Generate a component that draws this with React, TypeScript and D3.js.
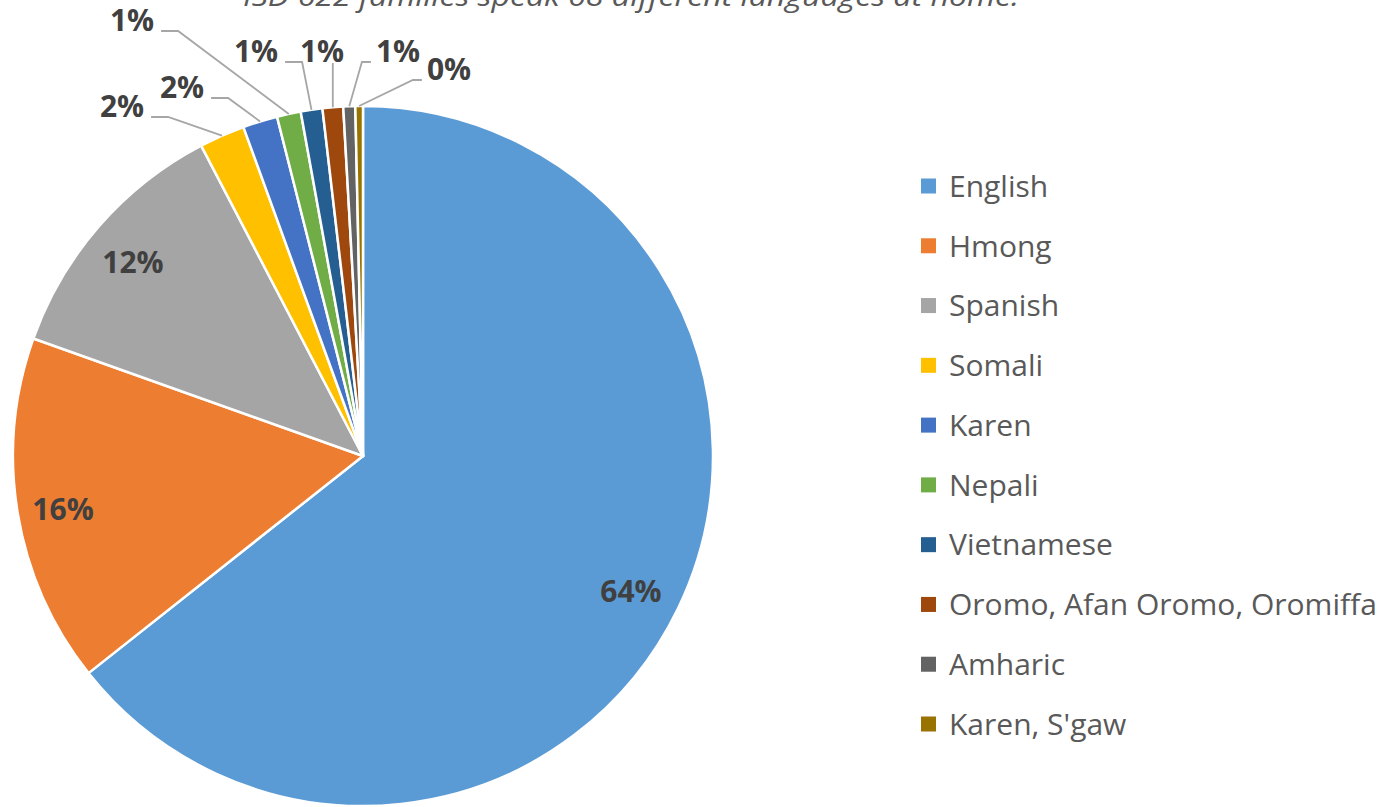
import React, { useRef, useEffect } from 'react';
import * as d3 from 'd3';

const title = 'ISD 622 families speak 68 different languages at home.';

const languages = [
  'English',
  'Hmong',
  'Spanish',
  'Somali',
  'Karen',
  'Nepali',
  'Vietnamese',
  'Oromo, Afan Oromo, Oromiffa',
  'Amharic',
  "Karen, S'gaw",
];

// share of families (percent)
const shares = [64.35, 16.1, 11.9, 2.1, 1.6, 1.1, 1.0, 0.95, 0.55, 0.35];

const colors = ['#5B9BD5', '#ED7D31', '#A5A5A5', '#FFC000', '#4472C4', '#70AD47', '#255E91', '#9E480E', '#636363', '#997300'];

// where the outside labels sit (label centre x, text baseline y); null = label inside the slice
const calloutPos: ([number, number] | null)[] = [
  null, null, null,
  [122, 117],
  [182, 98],
  [132, 31],
  [256, 62],
  [322, 62],
  [398, 62],
  [449, 80],
];

const App = () => {
  const ref = useRef<SVGSVGElement | null>(null);

  useEffect(() => {
    const width = 1389;
    const height = 807;
    const cx = 363;
    const cy = 456;
    const radius = 350;

    const svg = d3.select(ref.current);
    svg.selectAll('*').remove();
    svg.attr('width', width).attr('height', height);

    svg.append('rect').attr('width', width).attr('height', height).attr('fill', '#ffffff');

    // title (cut off at the top edge, as in the source image)
    svg.append('text')
      .attr('x', 631)
      .attr('y', 6)
      .attr('text-anchor', 'middle')
      .attr('font-style', 'italic')
      .attr('font-size', 28)
      .attr('fill', '#595959')
      .attr('textLength', 776)
      .attr('lengthAdjust', 'spacingAndGlyphs')
      .text(title);

    const data = languages.map((name, i) => ({ name, value: shares[i], color: colors[i], pos: calloutPos[i] }));
    const total = d3.sum(shares);

    const pie = d3.pie<any>().sort(null).value(d => d.value);
    const arcs = pie(data);

    const arc = d3.arc<any>().innerRadius(0).outerRadius(radius);
    const labelArc = d3.arc<any>().innerRadius(radius * 0.86).outerRadius(radius * 0.86);
    const edgeArc = d3.arc<any>().innerRadius(radius).outerRadius(radius);

    const g = svg.append('g').attr('transform', `translate(${cx},${cy})`);

    g.selectAll('path.slice')
      .data(arcs)
      .enter()
      .append('path')
      .attr('class', 'slice')
      .attr('d', arc)
      .attr('fill', d => d.data.color)
      .attr('stroke', '#ffffff')
      .attr('stroke-width', 2.5)
      .attr('stroke-linejoin', 'round');

    const fmt = (v: number) => `${Math.round((v / total) * 100)}%`;

    const labels = svg.append('g');

    arcs.forEach(d => {
      if (!d.data.pos) {
        const [lx, ly] = labelArc.centroid(d);
        labels.append('text')
          .attr('x', cx + lx - 3)
          .attr('y', cy + ly + 4)
          .attr('dy', '0.36em')
          .attr('text-anchor', 'middle')
          .attr('font-size', 30)
          .attr('font-weight', 700)
          .attr('fill', '#404040')
          .text(fmt(d.data.value));
        return;
      }

      const [px, py] = d.data.pos;
      const t = labels.append('text')
        .attr('x', px)
        .attr('y', py)
        .attr('text-anchor', 'middle')
        .attr('font-size', 30)
        .attr('font-weight', 700)
        .attr('fill', '#404040')
        .text(fmt(d.data.value));

      const bb = (t.node() as SVGTextElement).getBBox();
      const left = bb.x;
      const right = bb.x + bb.width;
      const [ex, ey] = edgeArc.centroid(d);
      const ax = cx + ex;
      const ay = cy + ey;

      let pts: [number, number][];
      if (ax > right + 7) {
        const sx = right + 7;
        pts = [[sx, py], [Math.min(sx + 17, ax), py], [ax, ay]];
      } else if (ax < left - 5) {
        const sx = left - 5;
        pts = [[sx, py], [Math.max(sx - 9, ax), py], [ax, ay]];
      } else {
        pts = [[ax, py + 1], [ax, ay]];
      }

      labels.append('path')
        .attr('d', d3.line()(pts))
        .attr('fill', 'none')
        .attr('stroke', '#A6A6A6')
        .attr('stroke-width', 1.8);
    });

    // legend
    const ly = d3.scalePoint<string>().domain(languages).range([186, 724]);
    const legend = svg.append('g');
    data.forEach(d => {
      const y = ly(d.name) as number;
      legend.append('rect')
        .attr('x', 921)
        .attr('y', y - 7.5)
        .attr('width', 15)
        .attr('height', 15)
        .attr('fill', d.color);
      legend.append('text')
        .attr('x', 949)
        .attr('y', y)
        .attr('dy', '0.36em')
        .attr('font-size', 30)
        .attr('fill', '#595959')
        .text(d.name);
    });
  }, []);

  return (
    <svg
      ref={ref}
      style={{ position: 'absolute', left: 0, top: 0, display: 'block', fontFamily: '"Open Sans", "Noto Sans", sans-serif' }}
    />
  );
};

export default App;
